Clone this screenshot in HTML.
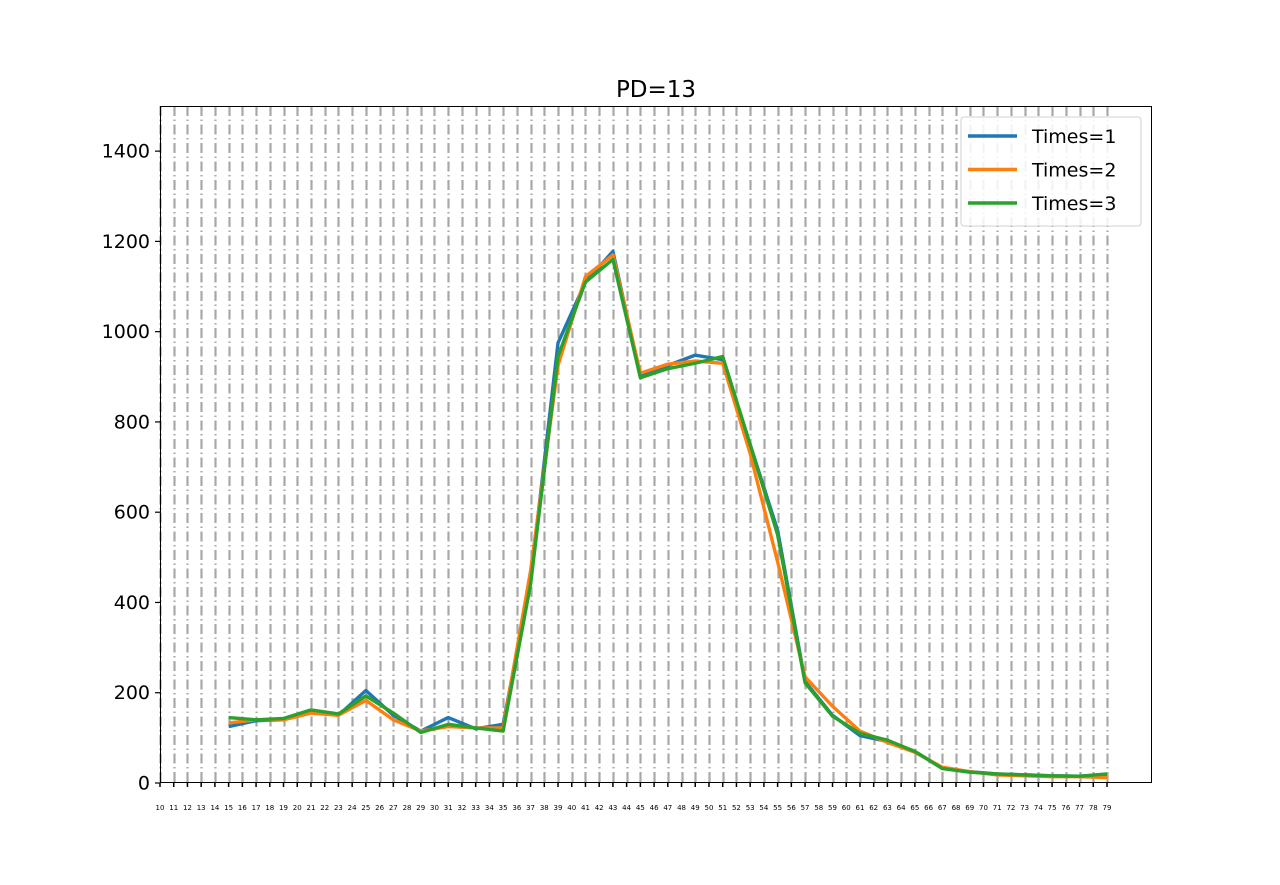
<!DOCTYPE html>
<html><head><meta charset="utf-8"><style>
body{margin:0;background:#fff;font-family:"Liberation Sans","DejaVu Sans",sans-serif}
svg text{font-family:"DejaVu Sans","Liberation Sans",sans-serif}
</style></head><body>
<svg id="chart" width="1280" height="880" xmlns="http://www.w3.org/2000/svg"></svg>
<script>
const xValues = [15,17,19,21,23,25,27,29,31,33,35,37,39,41,43,45,47,49,51,53,55,57,59,61,63,65,67,69,71,73,75,77,79];
const times1 = [125,138,140,160,150,205,150,115,145,120,130,450,975,1110,1178,900,925,948,938,750,560,225,150,105,92,70,33,25,20,18,16,15,18];
const times2 = [133,140,140,155,150,183,140,115,125,122,122,470,925,1122,1170,908,928,935,930,730,490,235,170,115,90,68,35,25,18,16,14,14,12];
const times3 = [145,140,143,162,153,193,155,112,130,122,115,440,945,1110,1160,898,918,930,945,750,550,222,148,110,95,70,32,24,20,18,16,15,20];
const yTicks = [0,200,400,600,800,1000,1200,1400];
const xTickStart = 10, xTickEnd = 79;
const seriesNames = ["Times=1","Times=2","Times=3"];
const colors = ["#1f77b4","#ff7f0e","#2ca02c"];

const L=160,R=1152,T=106,B=783;
const xmin=10, xmax=10+(R-L)/((1107-160)/69), ymax=1500;
const xs = v => L + (v-xmin)/(xmax-xmin)*(R-L);
const ys = v => B - v/ymax*(B-T);
const svg=document.getElementById('chart');
const NS="http://www.w3.org/2000/svg";
function mk(tag,attrs,parent){const e=document.createElementNS(NS,tag);for(const k in attrs)e.setAttribute(k,attrs[k]);(parent||svg).appendChild(e);return e;}

const grid=mk('g',{});


for(let v=xTickStart; v<=xTickEnd; v++){
  const x=Math.round(xs(v))+0.5;
  mk('line',{x1:x,x2:x,y1:T,y2:B,stroke:'#a8a8a8','stroke-width':2.2,'stroke-dasharray':'10,3.5,1.5,3.5'},grid);
}
const frame=mk('rect',{x:L+0.5,y:T+0.5,width:R-L-1,height:B-T-1,fill:'none',stroke:'#000','stroke-width':1});



const xa=mk('g',{});


for(let v=xTickStart; v<=xTickEnd; v++){
  const x=xs(v);
  mk('line',{x1:x,x2:x,y1:B,y2:B+4,stroke:'#000','stroke-width':1.5},xa);
  const t=mk('text',{x:x,y:B+27,'font-size':7,'text-anchor':'middle'},xa);
  t.textContent=v;
}
const ya=mk('g',{});


yTicks.forEach(v=>{
  const y=ys(v);
  mk('line',{x1:L-5,x2:L,y1:y,y2:y,stroke:'#000','stroke-width':1.2},ya);
  const t=mk('text',{x:L-10,y:y+6.5,'font-size':19,'text-anchor':'end'},ya);
  t.textContent=v;
});

[times1,times2,times3].forEach((arr,i)=>{
  const p=mk('polyline',{points:arr.map((v,j)=>xs(xValues[j])+','+ys(v)).join(' '),fill:'none',stroke:colors[i],'stroke-width':3.4,'stroke-linejoin':'round'});
  
  
});

const title=mk('text',{x:(L+R)/2,y:97,'font-size':23,'text-anchor':'middle'});
title.textContent='PD=13';



const lg=mk('g',{});


mk('rect',{x:961,y:117,width:180,height:109,rx:3,fill:'#fff','fill-opacity':0.85,stroke:'#d0d0d0'},lg);
seriesNames.forEach((n,i)=>{
  const y=136+i*33.5;
  const e=mk('g',{},lg);
  
  
  mk('line',{x1:968,x2:1017,y1:y,y2:y,stroke:colors[i],'stroke-width':3.4},e);
  const t=mk('text',{x:1032,y:y+7,'font-size':19},e);
  t.textContent=n;
});
</script>
</body></html>
